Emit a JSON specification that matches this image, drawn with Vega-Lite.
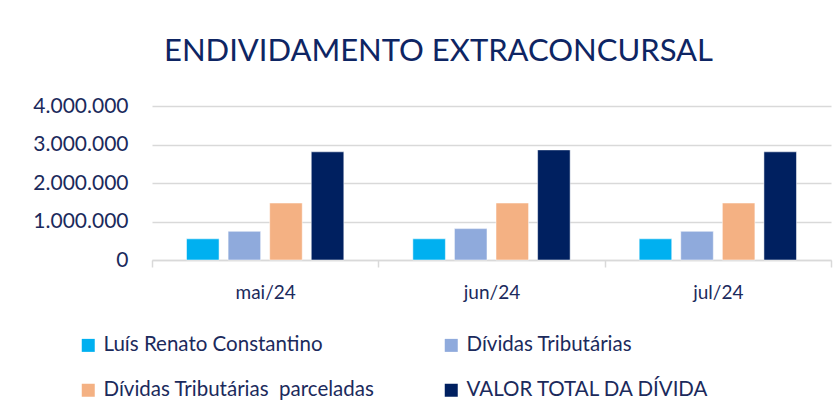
{
  "$schema": "https://vega.github.io/schema/vega-lite/v6.json",
  "autosize": {"type": "none"},
  "width": 679,
  "height": 154,
  "padding": {"left": 152, "top": 106, "right": 8, "bottom": 160},
  "background": "white",
  "config": {
    "locale": {"number": {"decimal": ",", "thousands": ".", "grouping": [3], "currency": ["R$", ""]}},
    "font": "Lato",
    "view": {"stroke": null}
  },
  "title": {
    "text": "ENDIVIDAMENTO EXTRACONCURSAL",
    "fontSize": 31,
    "font": "Lato",
    "fontWeight": "normal",
    "color": "#0E2563",
    "anchor": "middle",
    "dx": -53,
    "offset": 27
  },
  "data": {
    "values": [
      {"mes": "mai/24", "serie": "Luís Renato Constantino", "valor": 550000},
      {"mes": "mai/24", "serie": "Dívidas Tributárias", "valor": 745000},
      {"mes": "mai/24", "serie": "Dívidas Tributárias\u00a0 parceladas", "valor": 1480000},
      {"mes": "mai/24", "serie": "VALOR TOTAL DA DÍVIDA", "valor": 2810000},
      {"mes": "jun/24", "serie": "Luís Renato Constantino", "valor": 550000},
      {"mes": "jun/24", "serie": "Dívidas Tributárias", "valor": 815000},
      {"mes": "jun/24", "serie": "Dívidas Tributárias\u00a0 parceladas", "valor": 1480000},
      {"mes": "jun/24", "serie": "VALOR TOTAL DA DÍVIDA", "valor": 2860000},
      {"mes": "jul/24", "serie": "Luís Renato Constantino", "valor": 550000},
      {"mes": "jul/24", "serie": "Dívidas Tributárias", "valor": 745000},
      {"mes": "jul/24", "serie": "Dívidas Tributárias\u00a0 parceladas", "valor": 1480000},
      {"mes": "jul/24", "serie": "VALOR TOTAL DA DÍVIDA", "valor": 2810000}
    ]
  },
  "mark": {"type": "bar", "stroke": "white", "strokeWidth": 1, "strokeOpacity": 0.5},
  "encoding": {
    "x": {
      "field": "mes",
      "type": "nominal",
      "sort": ["mai/24", "jun/24", "jul/24"],
      "scale": {"paddingInner": 0, "paddingOuter": 0},
      "axis": {
        "title": null,
        "labelAngle": 0,
        "tickBand": "extent",
        "domainColor": "#d9d9d9",
        "domainWidth": 1.5,
        "tickColor": "#d9d9d9",
        "tickWidth": 1.5,
        "tickSize": 7,
        "labelFontSize": 19,
        "labelColor": "#1B2A5C",
        "labelPadding": 16
      }
    },
    "xOffset": {
      "field": "serie",
      "type": "nominal",
      "sort": ["Luís Renato Constantino", "Dívidas Tributárias", "Dívidas Tributárias\u00a0 parceladas", "VALOR TOTAL DA DÍVIDA"],
      "scale": {"paddingInner": 0.217, "paddingOuter": 0.83}
    },
    "y": {
      "field": "valor",
      "type": "quantitative",
      "scale": {"domain": [0, 4000000]},
      "axis": {
        "title": null,
        "values": [0, 1000000, 2000000, 3000000, 4000000],
        "format": ",.0f",
        "domain": false,
        "ticks": false,
        "labelPadding": 24,
        "labelFontSize": 21,
        "labelColor": "#1B2A5C",
        "gridColor": "#d9d9d9",
        "gridWidth": 1.5
      }
    },
    "color": {
      "field": "serie",
      "type": "nominal",
      "scale": {
        "domain": ["Luís Renato Constantino", "Dívidas Tributárias\u00a0 parceladas", "Dívidas Tributárias", "VALOR TOTAL DA DÍVIDA"],
        "range": ["#00B0F0", "#F4B183", "#8FAADC", "#002060"]
      },
      "legend": {
        "title": null,
        "orient": "none",
        "legendX": -74,
        "legendY": 229,
        "columns": 2,
        "symbolType": "square",
        "symbolSize": 169,
        "symbolStrokeWidth": 0,
        "labelFontSize": 20.5,
        "labelColor": "#1B2A5C",
        "labelLimit": 400,
        "labelOffset": 5,
        "columnPadding": 66,
        "rowPadding": 24
      }
    }
  }
}
